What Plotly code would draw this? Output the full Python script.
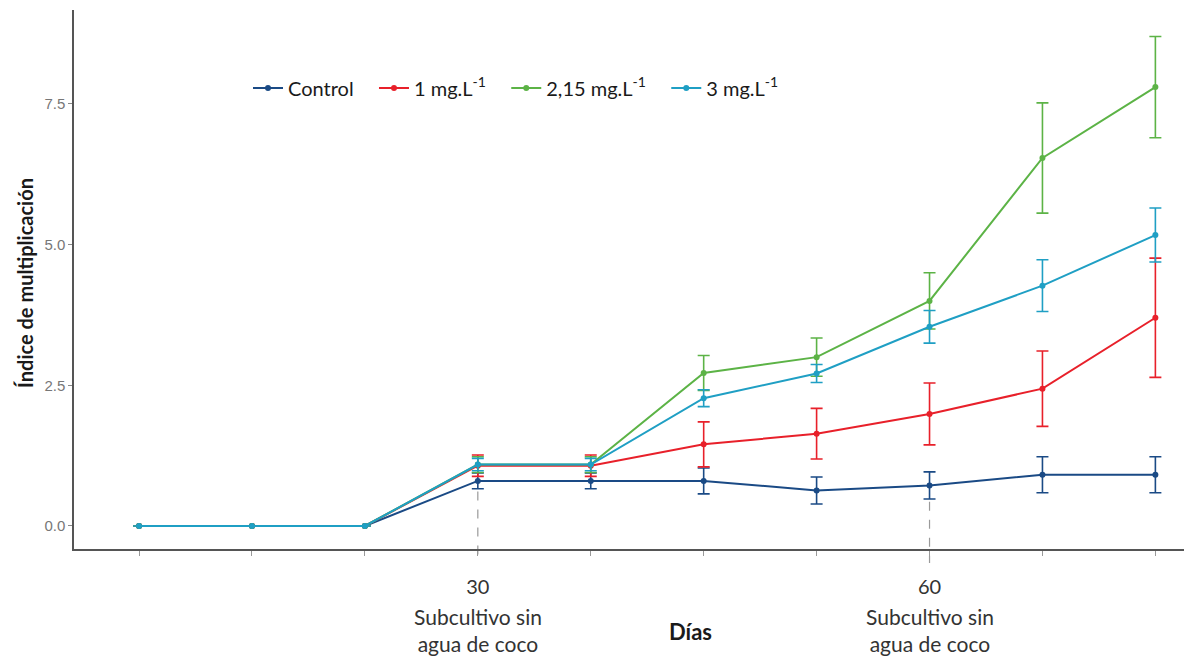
import plotly.graph_objects as go

days = [7.5, 15, 22.5, 30, 37.5, 45, 52.5, 60, 67.5, 75]

control = [0, 0, 0, 0.80, 0.80, 0.80, 0.63, 0.72, 0.91, 0.91]
control_err = [0, 0, 0, 0.14, 0.14, 0.23, 0.24, 0.24, 0.32, 0.32]

mg1 = [0, 0, 0, 1.07, 1.07, 1.45, 1.64, 1.99, 2.44, 3.70]
mg1_err = [0, 0, 0, 0.19, 0.19, 0.40, 0.45, 0.55, 0.67, 1.06]

mg215 = [0, 0, 0, 1.09, 1.09, 2.72, 3.00, 4.00, 6.54, 7.80]
mg215_err = [0, 0, 0, 0.14, 0.14, 0.31, 0.34, 0.50, 0.98, 0.90]

mg3 = [0, 0, 0, 1.09, 1.09, 2.27, 2.71, 3.54, 4.27, 5.17]
mg3_err = [0, 0, 0, 0.11, 0.11, 0.15, 0.16, 0.29, 0.46, 0.48]

series_names = ["Control", "1 mg.L<sup>-1</sup>", "2,15 mg.L<sup>-1</sup>", "3 mg.L<sup>-1</sup>"]
colors = ["#1a4a85", "#e8202a", "#5cb346", "#1f9fc4"]

x_tickvals = days
x_ticktext = ["", "", "", "30", "", "", "", "60", "", ""]
y_tickvals = [0, 2.5, 5.0, 7.5]
y_ticktext = ["0.0", "2.5", "5.0", "7.5"]

subcultivo_days = [30, 60]
subcultivo_text = "Subcultivo sin<br>agua de coco"

y_range = [-0.41, 9.17]

# page body has an 8px default margin; figure is sized/offset to compensate
OFF = 8
W, H = 1192 - OFF, 659 - OFF
ML, MR, MT = 74 - OFF, 5, 10 - OFF
PH = 539
MB = H - MT - PH
PW = W - ML - MR

fig = go.Figure()
for name, vals, errs, col in zip(series_names, [control, mg1, mg215, mg3],
                                 [control_err, mg1_err, mg215_err, mg3_err], colors):
    fig.add_trace(go.Scatter(
        x=days, y=vals, name=name + "&nbsp;&nbsp;&nbsp;", mode="lines+markers",
        line=dict(color=col, width=2),
        marker=dict(color=col, size=6),
        error_y=dict(type="data", array=errs, visible=True, color=col, thickness=1.6, width=6),
    ))

def to_paper(v):
    return (v - y_range[0]) / (y_range[1] - y_range[0])

def py(pix):
    # page pixel row -> paper coordinate
    return (MT + OFF + PH - pix) / PH

def px(pix):
    return (pix - ML - OFF) / PW

# dashed guide lines at subculture days
for d in subcultivo_days:
    i = days.index(d)
    ytop = control[i] - control_err[i] - 0.05
    fig.add_shape(type="line", xref="x", yref="paper", x0=d, x1=d,
                  y0=to_paper(ytop), y1=py(563),
                  line=dict(color="#9a9a9a", width=1.2, dash="dash"), layer="below")
    fig.add_annotation(x=d, xref="x", y=py(602), yref="paper", text=subcultivo_text,
                       showarrow=False, yanchor="top", align="center",
                       font=dict(family="Lato", size=21, color="#333333"))

fig.add_annotation(xref="paper", x=px(690), y=py(631), yref="paper",
                   text="<b>Días</b>", showarrow=False, yanchor="middle",
                   font=dict(family="Lato", size=22, color="#1a1a1a"))

fig.add_annotation(xref="paper", x=px(25), yref="paper", y=py(283),
                   text="<b>Índice de multiplicación</b>", textangle=-90, showarrow=False,
                   xanchor="center", yanchor="middle",
                   font=dict(family="Lato", size=20, color="#1a1a1a"))

fig.update_layout(
    width=W, height=H,
    margin=dict(l=ML, r=MR, t=MT, b=MB, autoexpand=False),
    paper_bgcolor="white", plot_bgcolor="white",
    showlegend=True,
    legend=dict(orientation="h", x=px(248), y=py(88),
                xanchor="left", yanchor="middle",
                font=dict(family="Lato", size=20, color="#1a1a1a"),
                bgcolor="rgba(0,0,0,0)", itemwidth=30),
    xaxis=dict(range=[3.18, 77.1], tickvals=x_tickvals, ticktext=x_ticktext,
               automargin=False,
               showgrid=False, zeroline=False, showline=True, linecolor="#555555", linewidth=1.5,
               ticks="outside", ticklen=5, tickcolor="#999999", tickwidth=1,
               ticklabelstandoff=14,
               tickfont=dict(family="Lato", size=20, color="#333333")),
    yaxis=dict(range=y_range, tickvals=y_tickvals, ticktext=y_ticktext,
               automargin=False,
               showgrid=False, zeroline=False, showline=True, linecolor="#555555", linewidth=1.5,
               ticks="outside", ticklen=4, tickcolor="#888888", tickwidth=1,
               tickfont=dict(family="Liberation Sans", size=15, color="#777777")),
)

fig.write_html("out.html")
